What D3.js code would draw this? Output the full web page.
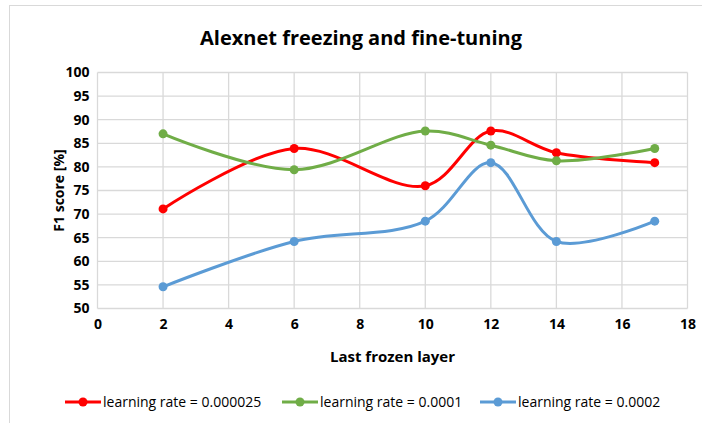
<!DOCTYPE html>
<html>
<head>
  <meta charset='utf-8'>
  <style>
    body { margin: 0; background: #fff; }
    text { font-family: "Open Sans", sans-serif; fill: #000; }
  </style>
  <script src='https://cdn.jsdelivr.net/npm/d3@7'></script>
</head>
<body>
  <script>
    // last frozen layer on x, F1 score on y
    const layers = [2, 6, 10, 12, 14, 17]
    const lr000025 = [71.1, 83.9, 76.0, 87.6, 83.0, 80.9]
    const lr0001 = [87.0, 79.4, 87.6, 84.6, 81.3, 83.9]
    const lr0002 = [54.6, 64.2, 68.5, 80.9, 64.2, 68.5]
    const seriesNames = ['learning rate = 0.000025', 'learning rate = 0.0001', 'learning rate = 0.0002']
    const xTicks = [0, 2, 4, 6, 8, 10, 12, 14, 16, 18]
    const yTicks = [50, 55, 60, 65, 70, 75, 80, 85, 90, 95, 100]

    const colors = ['#ff0000', '#70ad47', '#5b9bd5']
    const series = [lr000025, lr0001, lr0002].map((vals, i) => ({
      name: seriesNames[i], color: colors[i],
      pts: vals.map((v, j) => [layers[j], v])
    }))

    const [width, height] = [702, 423]
    const svg = d3.select('body').append('svg')
      .attr('width', width).attr('height', height)

    // chart frame
    svg.append('rect')
      .attr('x', 9.5).attr('y', 5.5)
      .attr('width', 720).attr('height', 440)
      .attr('fill', '#fff').attr('stroke', '#d9d9d9')

    const x = d3.scaleLinear([0, 18], [97.5, 687.5])
    const y = d3.scaleLinear([50, 100], [308.5, 72.5])

    // gridlines
    const grid = svg.append('g').attr('stroke', '#d9d9d9').attr('stroke-width', 1.3)
    grid.selectAll('.gx').data(xTicks).join('line')
      .attr('x1', d => x(d)).attr('x2', d => x(d))
      .attr('y1', y(100)).attr('y2', y(50))
    grid.selectAll('.gy').data(yTicks).join('line')
      .attr('x1', x(0)).attr('x2', x(18))
      .attr('y1', d => y(d)).attr('y2', d => y(d))

    // tick labels
    svg.append('g')
      .attr('transform', `translate(0,${y(50)})`)
      .call(d3.axisBottom(x).tickValues(xTicks).tickSize(0).tickPadding(11))
      .call(g => g.select('.domain').remove())
      .call(g => g.selectAll('text').attr('font-size', 14).attr('font-weight', 'bold')
        .attr('font-family', '"Open Sans", sans-serif'))

    svg.append('g')
      .attr('transform', `translate(${x(0)},0)`)
      .call(d3.axisLeft(y).tickValues(yTicks).tickSize(0).tickPadding(8))
      .call(g => g.select('.domain').remove())
      .call(g => g.selectAll('text').attr('font-size', 14).attr('font-weight', 'bold')
        .attr('font-family', '"Open Sans", sans-serif'))

    // lines
    const line = d3.line()
      .x(d => x(d[0])).y(d => y(d[1]))
      .curve(d3.curveCatmullRom.alpha(0.5))

    const lines = svg.append('g')
    series.forEach(s => {
      lines.append('path')
        .attr('d', line(s.pts))
        .attr('fill', 'none').attr('stroke', s.color)
        .attr('stroke-width', 3).attr('stroke-linecap', 'round')
      lines.selectAll(null).data(s.pts).join('circle')
        .attr('cx', d => x(d[0])).attr('cy', d => y(d[1]))
        .attr('r', 4.5).attr('fill', s.color)
    })

    // titles
    svg.append('text')
      .attr('x', 361).attr('y', 45)
      .attr('text-anchor', 'middle')
      .attr('font-size', 20).attr('font-weight', 'bold')
      .text('Alexnet freezing and fine-tuning')

    svg.append('text')
      .attr('transform', `translate(64,${(y(50) + y(100)) / 2}) rotate(-90)`)
      .attr('text-anchor', 'middle')
      .attr('font-size', 14).attr('font-weight', 'bold')
      .text('F1 score [%]')

    svg.append('text')
      .attr('x', (x(0) + x(18)) / 2).attr('y', 362)
      .attr('text-anchor', 'middle')
      .attr('font-size', 15).attr('font-weight', 'bold')
      .text('Last frozen layer')

    // legend
    const legendX = [65, 282, 480]
    const legend = svg.append('g')
    series.forEach((s, i) => {
      const g = legend.append('g').attr('transform', `translate(${legendX[i]},402)`)
      g.append('line').attr('x1', 0).attr('x2', 36)
        .attr('stroke', s.color).attr('stroke-width', 3)
      g.append('circle').attr('cx', 18).attr('r', 4.5).attr('fill', s.color)
      g.append('text').attr('x', 38).attr('dy', '0.35em')
        .attr('font-size', 14)
        .text(s.name)
    })
  </script>
</body>
</html>
